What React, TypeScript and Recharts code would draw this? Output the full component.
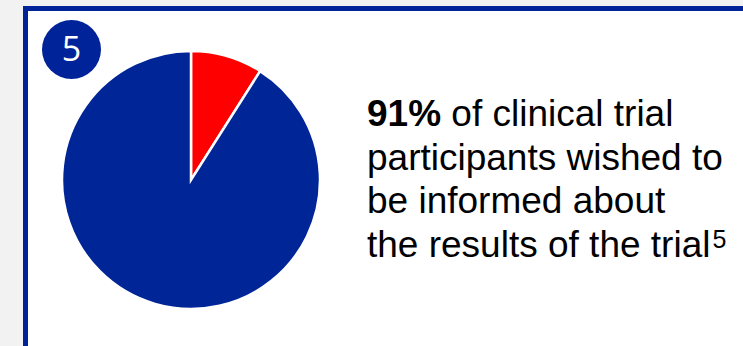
import { Cell, Pie, PieChart } from "recharts";

const segments = ["Did not wish to be informed", "Wished to be informed"];
const shares = [9, 91];
const sliceColors = ["#ff0000", "#002596"];

const badgeNumber = "5";
const headline = "91%";
const captionLines = ["of clinical trial", "participants wished to", "be informed about", "the results of the trial"];
const footnote = "5";

const pieData = segments.map((name, i) => ({ name, value: shares[i] }));

export default function App() {
  return (
    <div
      style={{
        position: "absolute",
        left: 0,
        top: 0,
        width: 743,
        height: 346,
        background: "#f2f2f2",
        overflow: "hidden",
        fontFamily: "'Liberation Sans', Arial, sans-serif",
      }}
    >
      <div
        style={{
          position: "absolute",
          left: 23,
          top: 6,
          width: 760,
          height: 380,
          background: "#ffffff",
          border: "5px solid #00239a",
          boxSizing: "border-box",
        }}
      />
      <div style={{ position: "absolute", left: 0, top: 0 }}>
        <PieChart width={743} height={346} margin={{ top: 0, right: 0, bottom: 0, left: 0 }}>
          <Pie
            data={pieData}
            dataKey="value"
            nameKey="name"
            cx={191}
            cy={180}
            outerRadius={129}
            startAngle={90}
            endAngle={-270}
            stroke="#ffffff"
            strokeWidth={2.5}
            isAnimationActive={false}
          >
            {pieData.map((d, i) => (
              <Cell key={d.name} fill={sliceColors[i]} />
            ))}
          </Pie>
        </PieChart>
      </div>
      <div
        style={{
          position: "absolute",
          left: 42,
          top: 20,
          width: 59,
          height: 59,
          borderRadius: "50%",
          background: "#00239a",
          color: "#ffffff",
          fontFamily: "'Open Sans', 'Noto Sans', sans-serif",
          fontWeight: 500,
          fontSize: 34,
          lineHeight: "57px",
          textAlign: "center",
        }}
      >
        {badgeNumber}
      </div>
      <div
        style={{
          position: "absolute",
          left: 367,
          top: 92,
          fontSize: 37,
          lineHeight: "43.5px",
          color: "#000000",
          whiteSpace: "nowrap",
        }}
      >
        {captionLines.map((line, i) => (
          <div key={line}>
            {i === 0 ? <b>{headline} </b> : null}
            {line}
            {i === captionLines.length - 1 ? (
              <span
                style={{
                  display: "inline-block",
                  fontSize: 25,
                  lineHeight: 1,
                  position: "relative",
                  top: -9,
                  marginLeft: 2,
                }}
              >
                {footnote}
              </span>
            ) : null}
          </div>
        ))}
      </div>
    </div>
  );
}
